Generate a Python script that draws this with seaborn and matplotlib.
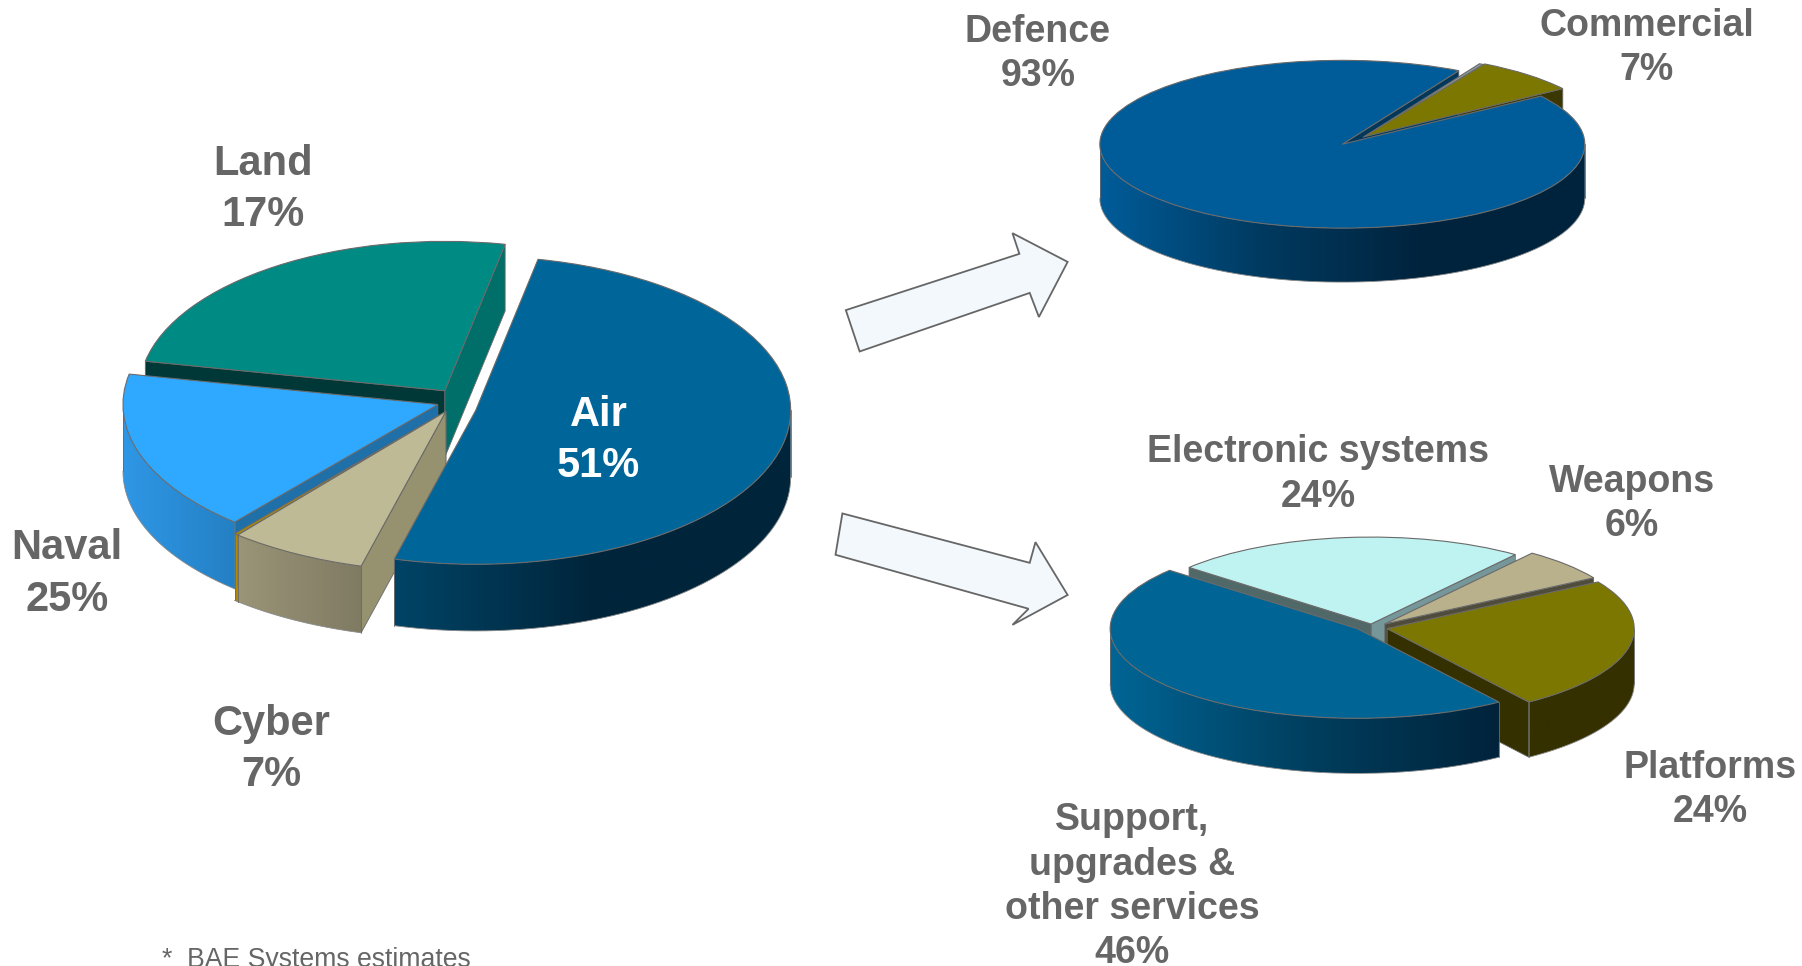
import numpy as np
import seaborn as sns
import matplotlib
matplotlib.use("Agg")
import matplotlib.pyplot as plt
from matplotlib.patches import Polygon

# -------------------------------
# Data
# -------------------------------
# left pie, slices as drawn (labels below are as printed on the chart)
sector_names = ["Air", "Land", "Naval", "Other", "Cyber"]
sector_shares = [51, 25, 17, 0.2, 6.8]
sector_labels = ["Air\n51%", "Land\n17%", "Naval\n25%", "Cyber\n7%"]

# top right pie
customer_names = ["Commercial", "Other", "Defence"]
customer_shares = [7, 0.3, 92.7]
customer_labels = ["Defence\n93%", "Commercial\n7%"]

# bottom right pie
product_names = ["Platforms", "Weapons", "Electronic systems", "Support"]
product_shares = [24, 6, 24, 46]
product_labels = ["Electronic systems\n24%", "Weapons\n6%", "Platforms\n24%",
                  "Support,\nupgrades &\nother services\n46%"]

footnote = "*  BAE Systems estimates"

W, H = 1802, 966
K = 1802 / 1568  # I measured everything on the shrunk picture

sns.set_theme(style="white")
plt.rcParams["font.family"] = ["Liberation Sans", "DejaVu Sans"]

fig = plt.figure(figsize=(W / 100, H / 100), dpi=100, facecolor="white")


def pie_3d(cx, cy, a, b, depth, shares, start, offsets, radii, stack, tops, faces, walls,
           top_stack=None):
    # one axes per pie, stretched so the round pie becomes an ellipse
    d = depth / b
    ymax = 1.4
    ymin = -1.4 - d
    ax = fig.add_axes([(cx - 1.5 * a) * K / W, 1 - (cy - ymin * b) * K / H,
                       3 * a * K / W, (ymax - ymin) * b * K / H])
    wedges, _ = ax.pie(shares, colors=tops, startangle=start,
                       wedgeprops=dict(edgecolor="#6a6a6a", linewidth=0.8))
    if top_stack is None:
        top_stack = stack

    for i, w in enumerate(wedges):
        z = stack[i] * 10
        ox, oy = offsets[i][0] / a, -offsets[i][1] / b
        r = radii[i]
        w.set_center((ox, oy))
        w.set_radius(r)
        w.set_zorder(top_stack[i] * 10 + 3)
        t1, t2 = w.theta1, w.theta2

        # cut faces, only the ones turned towards the viewer
        for t, sign, col in ((t1, 1, faces[i][0]), (t2, -1, faces[i][1])):
            if col is not None and sign * np.cos(np.radians(t)) > 0:
                rx = ox + r * np.cos(np.radians(t))
                ry = oy + r * np.sin(np.radians(t))
                ax.fill([ox, rx, rx, ox], [oy, ry, ry - d, oy - d], color=col,
                        ec="#6a6a6a", lw=0.6, zorder=z + 1)

        # outer wall, gradient image clipped to the wall shape
        for lo, hi in ((max(t1, 180), min(t2, 360)), (max(t1, 540), min(t2, 720))):
            if hi <= lo:
                continue
            ts = np.radians(np.linspace(lo, hi, 200))
            xs = ox + r * np.cos(ts)
            ys = oy + r * np.sin(ts)
            outline = np.r_[np.c_[xs, ys], np.c_[xs, ys - d][::-1]]
            cmap = sns.blend_palette(walls[i], as_cmap=True)
            im = ax.imshow(np.linspace(0, 1, 256)[None, :], cmap=cmap, aspect="auto",
                           extent=(xs.min(), xs.max(), (ys - d).min(), ys.max()),
                           zorder=z + 2)
            im.set_clip_path(Polygon(outline, closed=True, transform=ax.transData))
            ax.plot(xs, ys - d, color="#8a8a8a", lw=0.6, zorder=z + 2)
            ax.plot([xs[0], xs[0]], [ys[0], ys[0] - d], color="#6a6a6a", lw=0.6, zorder=z + 2)
            ax.plot([xs[-1], xs[-1]], [ys[-1], ys[-1] - d], color="#6a6a6a", lw=0.6, zorder=z + 2)

    ax.set_aspect("auto")
    ax.set_xlim(-1.5, 1.5)
    ax.set_ylim(ymin, ymax)
    ax.axis("off")
    return ax


# -------------------------------
# Pies
# -------------------------------
pie_3d(389, 343, 274, 134, 58, sector_shares, 255,
       [(25, 14), (-2, -3), (-8, 9), (-1, 15), (-1, 15)],
       [1.0, 0.97, 1.0, 1.04, 1.04], [4, 0, 1, 2, 3],
       ["#00669A", "#008A84", "#2EA9FF", "#B08A00", "#BFBA96"],
       [(None, None), ("#006F6A", "#003838"), (None, "#1F6FA8"),
        (None, "#B08A00"), (None, "#96916F")],
       [["#004466", "#00253B", "#00253B"], ["#006F6A", "#006F6A"],
        ["#2F97E6", "#2480C4"], ["#B08A00", "#B08A00"], ["#9A9578", "#7F7A62"]])

# the olive slice sits on top of the dark cut face of the big slice
pie_3d(1168, 125.5, 211, 73, 47, customer_shares, 35,
       [(19, -6.5), (18, -6), (0, 0)], [1.0, 1.0, 1.0], [0, 1, 2],
       ["#7C7700", "#8A9AA0", "#005C99"],
       [("#3A3700", None), (None, None), ("#00375A", None)],
       [["#3A3700", "#3A3700"], ["#5A6A70", "#5A6A70"],
        ["#005C99", "#003A60", "#00233D", "#00233D"]],
       top_stack=[4, 3, 2])

pie_3d(1194, 546, 215, 78, 48, product_shares, 305,
       [(13, 1), (11, -3), (-1, -3), (-13, 1)], [1.0, 0.99, 0.97, 1.0], [2, 1, 0, 3],
       ["#7C7700", "#B8B18C", "#BFF3F1", "#006595"],
       [("#353000", None), ("#4F4C3C", None), ("#76979A", "#516868"), (None, None)],
       [["#353000", "#353000"], ["#4F4C3C", "#4F4C3C"], ["#76979A", "#76979A"],
        ["#006595", "#003F5F", "#00233B"]])

# -------------------------------
# Overlay: arrows and labels, picture coordinates
# -------------------------------
top = fig.add_axes([0, 0, 1, 1], zorder=10)
top.set_xlim(0, 1568)
top.set_ylim(841, 0)
top.axis("off")

arrow_up = [(736, 270), (748, 306), (896, 255), (904, 276), (929, 228), (881, 203), (887, 221)]
arrow_down = [(733, 447), (727, 483), (895, 530), (881, 544), (929, 518), (901, 472), (896, 490)]
for arrow in (arrow_up, arrow_down):
    xs, ys = zip(*arrow)
    top.fill(xs, ys, facecolor="#F2F8FB", edgecolor="#666666", linewidth=1.3)


def label(x, y, s, size, color="#666666", spacing=1.3):
    top.text(x, y, s, ha="center", va="center", fontsize=size, fontweight="bold",
             color=color, linespacing=spacing)


label(521, 383.5, sector_labels[0], 30, color="white", spacing=1.38)
label(229, 165, sector_labels[1], 30, spacing=1.38)
label(58, 499.5, sector_labels[2], 30, spacing=1.38)
label(236, 652.5, sector_labels[3], 30, spacing=1.38)

label(903, 47, customer_labels[0], 27)
label(1433, 42, customer_labels[1], 27)

label(1147, 413, product_labels[0], 27)
label(1420, 439, product_labels[1], 27)
label(1488, 688, product_labels[2], 27)
label(985, 772, product_labels[3], 27)

top.text(141, 835.5, footnote, ha="left", va="center", fontsize=19.2, color="#666666")

fig.savefig("out.png", dpi=100)
